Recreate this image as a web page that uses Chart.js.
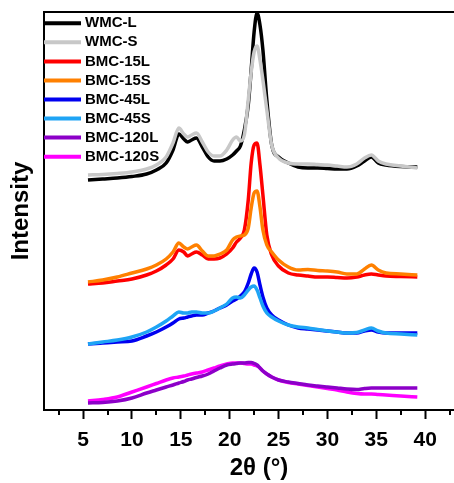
<!DOCTYPE html>
<html>
<head>
<meta charset="utf-8">
<title>XRD patterns</title>
<script src="https://cdn.jsdelivr.net/npm/chart.js@4"></script>
<style>
  html, body { margin: 0; padding: 0; background: #fff; overflow: hidden; }
  #wrap { width: 454px; height: 483px; overflow: hidden; }
</style>
</head>
<body>
<div id="wrap"><canvas id="xrd" width="474" height="483"></canvas></div>
<script>
// ===== DATA (2θ in degrees, intensity in arbitrary units, curves already offset) =====
const twoTheta = [5.5, 7, 8.5, 10, 11.5, 12.5, 13.5, 14.2, 14.8, 15.3, 15.7, 16.1, 16.6, 17.2, 17.8,
    18.4, 19.0, 19.7, 20.3, 20.7, 21.1, 21.5, 21.9, 22.2, 22.5, 22.8, 23.1, 23.4, 23.8, 24.3,
    25, 26, 27, 28, 29, 30, 31, 32, 33, 33.8, 34.5, 35.2, 36, 37.5, 39.2];

const wmcL = [230, 231, 232, 233.5, 236, 240, 247, 260, 276, 271, 268, 270, 272, 263, 253,
    249, 249, 251, 255, 259, 264, 280, 305, 340, 378, 397, 385, 360, 310, 265,
    253, 247, 243, 242, 242, 241.5, 241, 241, 244, 249, 253, 247, 245, 243.5, 243];
const wmcS = [235, 235.5, 236.5, 238, 241, 245, 253, 267, 282, 276, 273, 275, 277, 268, 258,
    254, 254, 260, 270, 273, 269, 275, 310, 338, 358, 364, 350, 330, 300, 265,
    252, 247, 246, 246, 245.5, 245, 244, 243, 246, 252, 255, 249, 246, 244, 242];
const bmc15L = [126, 127, 129, 131, 135, 139, 145, 151, 160, 158, 154, 156, 158, 155, 151,
    151, 152, 156, 162, 168, 172, 180, 210, 247, 265, 267, 245, 215, 175, 155,
    144, 137, 135, 134, 133, 133, 132.5, 132, 133, 135, 136, 135, 134, 133.5, 133];
const bmc15S = [128, 130, 133, 137, 141, 145, 151, 158, 167, 163, 161, 163, 165, 159, 154,
    154, 156, 160, 170, 173, 174, 175, 182, 202, 217, 219, 203, 180, 165, 158,
    150, 143, 140, 140.5, 139.5, 139, 138, 136, 136, 141, 145, 140, 137, 136, 135];
const bmc45L = [66, 67, 68, 69, 74, 78, 83, 87, 91, 92, 93, 94, 95, 95, 97,
    99, 102, 105, 109, 111, 114, 118, 127, 136, 142, 138, 125, 113, 102, 95,
    90, 85, 82, 81, 80, 79, 78, 77, 77, 79, 80, 78, 77, 77, 77];
const bmc45S = [66, 68, 70, 73, 78, 83, 89, 94, 98, 97, 97, 98, 98, 97, 97,
    99, 102, 106, 112, 113, 112, 115, 120, 123, 124, 120, 112, 104, 97, 93,
    89, 85, 83, 82, 80.5, 79, 78, 77, 77.5, 80, 82, 79, 77, 76, 75];
const bmc120L = [7, 7.5, 9, 12, 17, 20, 23, 25, 27, 28.5, 30, 31, 32.5, 34, 36,
    39, 42, 45, 46, 46.5, 47, 47, 47.5, 47.5, 46.5, 45, 42, 39, 36, 33,
    30, 28, 26.5, 25, 24, 23, 22, 21, 20.5, 21.5, 22, 22, 22, 22, 22];
const bmc120S = [9, 10.5, 13, 18, 23, 26.5, 30, 32, 33, 34, 35, 36, 37, 38, 40,
    42, 44, 46, 47, 47, 47, 46.5, 46, 46, 45, 44, 42, 39, 36, 33,
    30, 27.5, 26, 24.5, 23, 21.5, 20, 18, 16.5, 16, 16, 15.5, 15, 14, 13];

const seriesNames = ['WMC-L', 'WMC-S', 'BMC-15L', 'BMC-15S', 'BMC-45L', 'BMC-45S', 'BMC-120L', 'BMC-120S'];
const seriesValues = [wmcL, wmcS, bmc15L, bmc15S, bmc45L, bmc45S, bmc120L, bmc120S];

const xMajorTicks = [5, 10, 15, 20, 25, 30, 35, 40];
const xMinorTicks = [2.5, 7.5, 12.5, 17.5, 22.5, 27.5, 32.5, 37.5, 42.5];

// ===== STYLE =====
const seriesColors = ['#000000', '#c8c8c8', '#ff0000', '#ff8000', '#0000f0', '#1ea4f5', '#8c00c8', '#ff00ff'];
const drawOrder = [2, 1, 2, 1, 2, 1, 1, 2]; // lower = on top
const FONT = '"Liberation Sans", Arial, sans-serif';

// legend inside the plot, top left
const insideLegend = {
    id: 'insideLegend',
    afterDraw(chart) {
        const { ctx, chartArea } = chart;
        const left = chartArea.left;
        ctx.save();
        ctx.font = 'bold 15px ' + FONT;
        ctx.textBaseline = 'middle';
        ctx.textAlign = 'left';
        chart.data.datasets.forEach((ds, i) => {
            const y = 23.3 + i * 19.05;
            ctx.strokeStyle = ds.borderColor;
            ctx.lineWidth = 4;
            ctx.beginPath();
            ctx.moveTo(left, y);
            ctx.lineTo(left + 37, y);
            ctx.stroke();
            ctx.fillStyle = '#000';
            ctx.fillText(ds.label, left + 41, y);
        });
        ctx.restore();
    }
};

// top frame line + minor ticks on the x axis
const frameLines = {
    id: 'frameLines',
    afterDraw(chart) {
        const { ctx, chartArea, scales } = chart;
        ctx.save();
        ctx.strokeStyle = '#000';
        ctx.lineWidth = 2;
        ctx.beginPath();
        ctx.moveTo(chartArea.left - 1, chartArea.top);
        ctx.lineTo(chartArea.right, chartArea.top);
        xMinorTicks.forEach(v => {
            const px = Math.round(scales.x.getPixelForValue(v));
            ctx.moveTo(px, chartArea.bottom);
            ctx.lineTo(px, chartArea.bottom + 5);
        });
        ctx.stroke();
        ctx.restore();
    }
};

const datasets = seriesNames.map((name, i) => ({
    label: name,
    data: twoTheta.map((t, j) => ({ x: t, y: seriesValues[i][j] })),
    borderColor: seriesColors[i],
    borderWidth: 3.5,
    pointRadius: 0,
    cubicInterpolationMode: 'monotone',
    fill: false,
    order: drawOrder[i],
    clip: false
}));

new Chart(document.getElementById('xrd').getContext('2d'), {
    type: 'line',
    data: { datasets },
    options: {
        responsive: false,
        animation: false,
        devicePixelRatio: 1,
        layout: { padding: { top: 12, left: 0, right: 0, bottom: 0 } },
        plugins: {
            legend: { display: false },
            tooltip: { enabled: false }
        },
        scales: {
            x: {
                type: 'linear',
                min: 1,
                max: 45,
                afterFit: (scale) => { scale.height = 73; },
                afterBuildTicks: (scale) => { scale.ticks = xMajorTicks.map(v => ({ value: v })); },
                grid: {
                    drawOnChartArea: false,
                    drawTicks: true,
                    tickLength: 9,
                    tickWidth: 2,
                    tickColor: '#000'
                },
                border: { display: true, color: '#000', width: 2 },
                ticks: {
                    color: '#000',
                    padding: 9,
                    maxRotation: 0,
                    autoSkip: false,
                    font: { family: FONT, size: 21, weight: 'bold' }
                },
                title: {
                    display: true,
                    text: '2θ (°)',
                    color: '#000',
                    padding: { top: 0, bottom: 0 },
                    font: { family: FONT, size: 24, weight: 'bold', lineHeight: 1.2 }
                }
            },
            y: {
                min: 0,
                max: 398,
                afterFit: (scale) => { scale.width = 44; },
                grid: { drawOnChartArea: false, drawTicks: false },
                border: { display: true, color: '#000', width: 2 },
                ticks: { display: false },
                title: {
                    display: true,
                    text: 'Intensity',
                    color: '#000',
                    padding: { top: 7, bottom: 0 },
                    font: { family: FONT, size: 24, weight: 'bold', lineHeight: 1.2 }
                }
            }
        }
    },
    plugins: [frameLines, insideLegend]
});
</script>
</body>
</html>
